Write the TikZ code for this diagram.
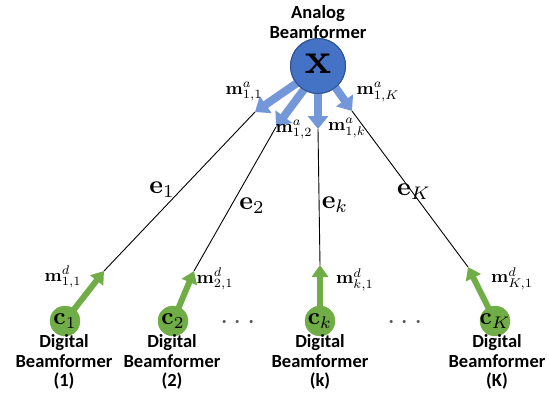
\RequirePackage{fix-cm}
\documentclass[tikz,border=0pt]{standalone}
\usepackage[no-math]{fontspec}
\setmainfont{Carlito}
\usetikzlibrary{arrows.meta}
\definecolor{bfill}{HTML}{4472C4}
\definecolor{bdraw}{HTML}{2F528F}
\definecolor{barrow}{HTML}{7397D9}
\definecolor{gfill}{HTML}{70AD47}
\definecolor{dotc}{HTML}{595959}
\tikzset{
  anode/.style={circle,fill=bfill,draw=bdraw,line width=1pt,minimum size=55pt,inner sep=0pt},
  dnode/.style={circle,fill=gfill,draw=gfill,minimum size=30pt,inner sep=0pt},
  xlab/.style={scale=4.4,inner sep=0pt},
  clab/.style={scale=2.4,inner sep=0pt},
  barr/.style={draw=barrow,line width=8pt,-{Triangle[width=20pt,length=13pt]}},
  garr/.style={draw=gfill,line width=6pt,-{Triangle[width=16pt,length=12pt]},shorten <=-2pt},
  link/.style={draw=black,line width=0.9pt},
  mlab/.style={scale=1.8,inner sep=0pt},
  elab/.style={scale=2.6,inner sep=0pt},
  dotlab/.style={scale=3.0,text=dotc,inner sep=0pt},
  tlab/.style={font=\fontsize{18.5}{19.5}\selectfont\bfseries,align=center,inner sep=0pt},
}
\begin{document}
\begin{tikzpicture}[x=1pt,y=-1pt]
\useasboundingbox (0,0) rectangle (549,415);
% analog beamformer
\node[tlab] (title) at (318,22) {Analog\\Beamformer};
\coordinate (ta1) at (255,112);
\coordinate (ta2) at (276,127);
\coordinate (tak) at (318,129);
\coordinate (taK) at (352,111);
\node[anode] (X) at (318,66) {};
\draw[barr] (X.center) ++(-8,8) coordinate (s1) (s1) -- (ta1);
\draw[barr] (X.center) ++(-4,10) coordinate (s2) (s2) -- (ta2);
\draw[barr] (X.center) ++(0,10) coordinate (sk) (sk) -- (tak);
\draw[barr] (X.center) ++(8,8) coordinate (sK) (sK) -- (taK);
\node[anode] (X2) at (318,66) {};
\node[xlab] (xl) at (318,64) {$\mathbf{x}$};
% digital nodes
\node[dnode] (C1) at (65,321) {};
\node[dnode] (C2) at (173,321) {};
\node[dnode] (Ck) at (320,321) {};
\node[dnode] (CK) at (495,321) {};
\node[clab] at (C1) {$\mathbf{c}_1$};
\node[clab] at (C2) {$\mathbf{c}_2$};
\node[clab] at (Ck) {$\mathbf{c}_k$};
\node[clab] at (CK) {$\mathbf{c}_K$};
\coordinate (td1) at (104,271);
\coordinate (td2) at (194,271);
\coordinate (tdk) at (320,265);
\coordinate (tdK) at (468,267);
% links
\draw[link] (td1) -- (ta1);
\draw[link] (td2) -- (ta2);
\draw[link] (tdk) -- (tak);
\draw[link] (tdK) -- (taK);
% green arrows
\draw[garr] (C1) -- (td1);
\draw[garr] (C2) -- (td2);
\draw[garr] (Ck) -- (tdk);
\draw[garr] (CK) -- (tdK);
% labels
\node[mlab] (ma11) at (244,92) {$\mathbf{m}^a_{1,1}$};
\node[mlab] (ma12) at (294,130) {$\mathbf{m}^a_{1,2}$};
\node[mlab] (ma1k) at (347,128) {$\mathbf{m}^a_{1,k}$};
\node[mlab] (ma1K) at (378,92) {$\mathbf{m}^a_{1,K}$};
\node[mlab] (md11) at (63,277) {$\mathbf{m}^d_{1,1}$};
\node[mlab] (md21) at (215,279) {$\mathbf{m}^d_{2,1}$};
\node[mlab] (mdk1) at (355,280) {$\mathbf{m}^d_{k,1}$};
\node[mlab] (mdK1) at (512,279) {$\mathbf{m}^d_{K,1}$};
\node[elab] (e1) at (162,190) {$\mathbf{e}_1$};
\node[elab] (e2) at (252,206) {$\mathbf{e}_2$};
\node[elab] (ek) at (335,205) {$\mathbf{e}_k$};
\node[elab] (eK) at (414,192) {$\mathbf{e}_K$};
\node[dotlab] (dots1) at (238,323) {$\cdots$};
\node[dotlab] (dots2) at (405,323) {$\cdots$};
% captions
\node[tlab] (D1) at (64,362) {Digital\\Beamformer\\(1)};
\node[tlab] (D2) at (172,362) {Digital\\Beamformer\\(2)};
\node[tlab] (Dk) at (320,362) {Digital\\Beamformer\\(k)};
\node[tlab] (DK) at (497,362) {Digital\\Beamformer\\(K)};
\end{tikzpicture}
\end{document}
